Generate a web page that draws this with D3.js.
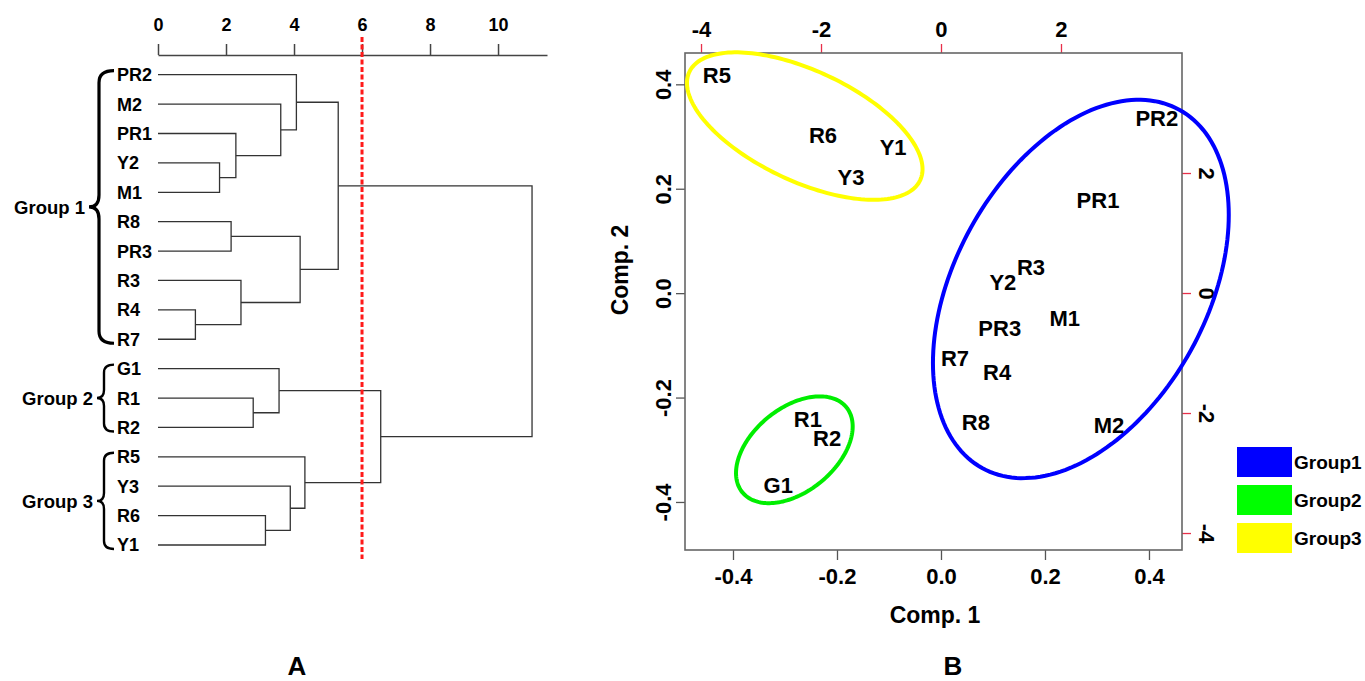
<!DOCTYPE html>
<html>
<head>
<meta charset="utf-8">
<script src="https://cdn.jsdelivr.net/npm/d3@7"></script>
<style>
    body { margin: 0; background: #fff; }
    svg text { font-family: "Liberation Sans", Arial, sans-serif; font-weight: bold; fill: #000; }
</style>
</head>
<body>
<div id="wrapper"></div>
<script>
//Panel A: dendrogram data (leaf order top to bottom, merges as in hclust)
const leafNames = ["PR2","M2","PR1","Y2","M1","R8","PR3","R3","R4","R7","G1","R1","R2","R5","Y3","R6","Y1"];
const mergeA = ["Y2","PR1","M2","PR2","R8","R4","R3","m4","m3","R1","G1","R6","Y3","R5","m10","m8"];
const mergeB = ["M1","m0","m1","m2","PR3","R7","m5","m6","m7","R2","m9","Y1","m11","m12","m13","m14"];
const mergeHeight = [1.81, 2.29, 3.61, 4.07, 2.15, 1.10, 2.44, 4.18, 5.30, 2.80, 3.56, 3.16, 3.89, 4.32, 6.55, 11.0];
const distTicks = [0, 2, 4, 6, 8, 10];
const cutHeight = 6;
const groupNames = ["Group 1", "Group 2", "Group 3"];
const groupFirst = ["PR2", "G1", "R5"];
const groupLast = ["R7", "R2", "Y1"];

//Panel B: PCA scores
const sampleNames = ["R5","R6","Y1","Y3","PR2","PR1","R3","Y2","M1","PR3","R7","R4","R8","M2","R1","R2","G1"];
const comp1 = [-0.431, -0.227, -0.092, -0.173, 0.415, 0.302, 0.173, 0.119, 0.238, 0.113, 0.027, 0.108, 0.067, 0.323, -0.256, -0.219, -0.313];
const comp2 = [0.418, 0.303, 0.280, 0.222, 0.335, 0.178, 0.050, 0.021, -0.048, -0.067, -0.125, -0.151, -0.247, -0.253, -0.241, -0.278, -0.368];
const comp1Ticks = [-0.4, -0.2, 0.0, 0.2, 0.4];
const comp2Ticks = [-0.4, -0.2, 0.0, 0.2, 0.4];
const loadTicks = [-4, -2, 0, 2];
//group ellipses (data units, angle in degrees)
const legendNames = ["Group1", "Group2", "Group3"];
const groupColors = ["#0000ff", "#00ee00", "#ffff00"];
const legendColors = ["#0000ff", "#00ff00", "#ffff00"];
const ellipseCx = [0.269, -0.282, -0.262];
const ellipseCy = [0.008, -0.300, 0.320];
const ellipseA = [0.392, 0.129, 0.245];
const ellipseB = [0.242, 0.080, 0.106];
const ellipseAngle = [61, 39, -25];

const svg = d3.select("#wrapper").append("svg")
    .attr("width", 1365)
    .attr("height", 681);

//=========== Panel A ===========
const xDist = d3.scaleLinear().domain([0, 11.44]).range([158, 547]);
const yLeaf = d3.scalePoint().domain(leafNames).range([74.7, 545]);

const axisA = svg.append("g")
    .attr("transform", "translate(0,55)")
    .call(d3.axisTop(xDist).tickValues(distTicks).tickSize(11).tickSizeOuter(0).tickPadding(13));
axisA.selectAll("path, line").attr("stroke", "#444").attr("stroke-width", 1.5);
axisA.selectAll("text").attr("font-size", 18).style("font-family", "'Liberation Sans', Arial").style("font-weight", "bold");

//dendrogram branches
const pos = {};
leafNames.forEach(n => pos[n] = {x: xDist(0), y: yLeaf(n)});
const tree = svg.append("g").attr("fill", "none").attr("stroke", "#333").attr("stroke-width", 1.3);
mergeA.forEach((a, i) => {
    const pa = pos[a], pb = pos[mergeB[i]];
    const h = xDist(mergeHeight[i]);
    tree.append("path").attr("d", `M${pa.x},${pa.y}H${h}V${pb.y}H${pb.x}`);
    pos["m" + i] = {x: h, y: (pa.y + pb.y) / 2};
});

//cut line
svg.append("line")
    .attr("x1", xDist(cutHeight)).attr("x2", xDist(cutHeight))
    .attr("y1", 37).attr("y2", 559)
    .attr("stroke", "#ff1a1a").attr("stroke-width", 3)
    .attr("stroke-dasharray", "5,2.5");

//leaf labels
svg.append("g").selectAll("text").data(leafNames).join("text")
    .attr("x", 117).attr("y", d => yLeaf(d)).attr("dy", "0.36em")
    .attr("font-size", 18)
    .text(d => d);

//braces + group labels
groupNames.forEach((g, i) => {
    const y0 = yLeaf(groupFirst[i]) - 4, y1 = yLeaf(groupLast[i]) + 4;
    const mid = (y0 + y1) / 2;
    const xEnd = 114, xBody = i == 0 ? 99 : 104, xTip = i == 0 ? 89 : 97;
    const r = i == 0 ? 12 : 8;
    svg.append("path")
        .attr("d", `M${xEnd},${y0}Q${xBody},${y0} ${xBody},${y0 + r}L${xBody},${mid - r}Q${xBody},${mid} ${xTip},${mid}` +
                   `Q${xBody},${mid} ${xBody},${mid + r}L${xBody},${y1 - r}Q${xBody},${y1} ${xEnd},${y1}`)
        .attr("fill", "none").attr("stroke", "#000").attr("stroke-width", i == 0 ? 3.2 : 2.4);
    svg.append("text")
        .attr("x", xTip - 4).attr("y", mid).attr("dy", "0.36em")
        .attr("text-anchor", "end").attr("font-size", 18.5)
        .text(g);
});

svg.append("text").attr("x", 297).attr("y", 675).attr("text-anchor", "middle")
    .attr("font-size", 26).style("font-weight", 900).text("A");

//=========== Panel B ===========
const box = {left: 685, right: 1182, top: 53, bottom: 550};
const xScale = d3.scaleLinear().domain([-0.4923, 0.4635]).range([box.left, box.right]);
const yScale = d3.scaleLinear().domain([-0.492, 0.46]).range([box.bottom, box.top]);
const xTop = d3.scaleLinear().domain([-4.267, 4.017]).range([box.left, box.right]);
const yRight = d3.scaleLinear().domain([-4.283, 4.0]).range([box.bottom, box.top]);

function styleAxis(g, tickColor) {
    g.select(".domain").remove();
    g.selectAll("line").attr("stroke", tickColor).attr("stroke-width", 1.3);
    g.selectAll("text").attr("font-size", 22).style("font-family", "'Liberation Sans', Arial").style("font-weight", "bold").attr("fill", "#000");
}

const bottomAxis = svg.append("g").attr("transform", `translate(0,${box.bottom})`)
    .call(d3.axisBottom(xScale).tickValues(comp1Ticks).tickFormat(d => d.toFixed(1)).tickSize(10).tickPadding(8));
styleAxis(bottomAxis, "#555");

const leftAxis = svg.append("g").attr("transform", `translate(${box.left},0)`)
    .call(d3.axisLeft(yScale).tickValues(comp2Ticks).tickFormat(d => d.toFixed(1)).tickSize(9));
styleAxis(leftAxis, "#555");
leftAxis.selectAll("text")
    .attr("x", null).attr("dy", "0.36em").attr("text-anchor", "middle")
    .attr("transform", "translate(-22,0) rotate(-90)");

const topAxis = svg.append("g").attr("transform", `translate(0,${box.top})`)
    .call(d3.axisTop(xTop).tickValues(loadTicks).tickFormat(d => String(d)).tickSize(9).tickPadding(7));
styleAxis(topAxis, "#e8304a");

const rightAxis = svg.append("g").attr("transform", `translate(${box.right},0)`)
    .call(d3.axisRight(yRight).tickValues(loadTicks).tickFormat(d => String(d)).tickSize(9));
styleAxis(rightAxis, "#e8304a");
rightAxis.selectAll("text")
    .attr("x", null).attr("dy", "0.36em").attr("text-anchor", "middle")
    .attr("transform", "translate(25,0) rotate(90)");

svg.append("rect")
    .attr("x", box.left).attr("y", box.top)
    .attr("width", box.right - box.left).attr("height", box.bottom - box.top)
    .attr("fill", "none").attr("stroke", "#666").attr("stroke-width", 1.6);

//ellipses
const ellipsePath = d3.line().x(d => xScale(d[0])).y(d => yScale(d[1])).curve(d3.curveLinearClosed);
legendNames.forEach((g, i) => {
    const th = ellipseAngle[i] * Math.PI / 180;
    const pts = d3.range(0, 360, 2).map(deg => {
        const t = deg * Math.PI / 180;
        const u = ellipseA[i] * Math.cos(t), v = ellipseB[i] * Math.sin(t);
        return [ellipseCx[i] + u * Math.cos(th) - v * Math.sin(th), ellipseCy[i] + u * Math.sin(th) + v * Math.cos(th)];
    });
    svg.append("path").attr("d", ellipsePath(pts))
        .attr("fill", "none").attr("stroke", groupColors[i]).attr("stroke-width", 4);
});

//sample labels
svg.append("g").selectAll("text").data(sampleNames).join("text")
    .attr("x", (d, i) => xScale(comp1[i]))
    .attr("y", (d, i) => yScale(comp2[i]))
    .attr("dy", "0.36em").attr("text-anchor", "middle")
    .attr("font-size", 22)
    .text(d => d);

//axis titles
svg.append("text").attr("x", 935).attr("y", 623).attr("text-anchor", "middle").attr("font-size", 23).text("Comp. 1");
svg.append("text").attr("transform", "translate(628,270) rotate(-90)").attr("text-anchor", "middle").attr("font-size", 23).text("Comp. 2");

//legend
const legend = svg.append("g");
legendNames.forEach((g, i) => {
    legend.append("rect").attr("x", 1237).attr("y", 447 + i * 38).attr("width", 55).attr("height", 30).attr("fill", legendColors[i]);
    legend.append("text").attr("x", 1294).attr("y", 462 + i * 38).attr("dy", "0.36em").attr("font-size", 19).text(g);
});

svg.append("text").attr("x", 953).attr("y", 675).attr("text-anchor", "middle")
    .attr("font-size", 26).style("font-weight", 900).text("B");
</script>
</body>
</html>
